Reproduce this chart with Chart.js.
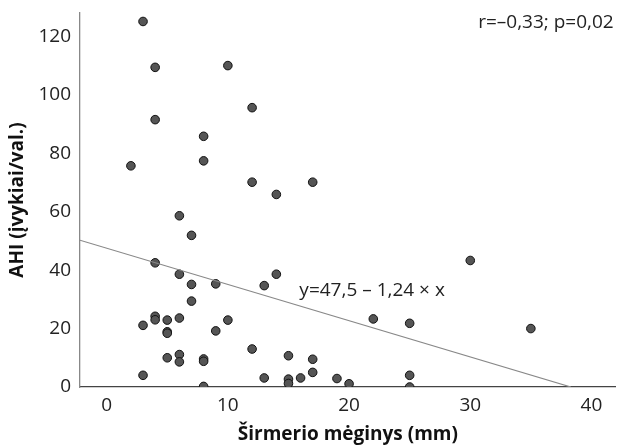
<!DOCTYPE html>
<html>
<head>
<meta charset="utf-8">
<script src="https://cdn.jsdelivr.net/npm/chart.js@4.4.0/dist/chart.umd.min.js"></script>
<style>
  html, body { margin: 0; padding: 0; background: #fff; }
  #wrap { width: 621px; height: 446px; }
</style>
</head>
<body>
<div id="wrap"><canvas id="chart" width="621" height="446"></canvas></div>
<script>
// Širmerio mėginys (mm) vs AHI
const xValues = [3, 4, 10, 12, 4, 8, 8, 2, 12, 17, 14, 6, 7, 4, 6, 7, 9, 7, 13, 14,
  3, 4, 4, 5, 5, 5, 6, 9, 10, 12, 5, 6, 6, 8, 8, 3, 8, 13, 15, 15, 15, 16, 17, 17,
  30, 22, 25, 35, 19, 20, 25, 25];
const yValues = [125.1, 109.4, 110, 95.6, 91.5, 85.8, 77.4, 75.7, 70.1, 70.1, 65.9, 58.6,
  51.9, 42.5, 38.6, 35.1, 35.3, 29.4, 34.7, 38.6,
  21.1, 24.2, 23.0, 22.9, 18.9, 18.4, 23.6, 19.2, 22.9, 13.0, 10.0, 11.1, 8.6, 9.6, 8.8,
  4.0, 0.2, 3.1, 10.7, 2.7, 1.2, 3.1, 9.5, 5.0,
  43.3, 23.3, 21.8, 20.0, 2.9, 1.1, 4.0, 0];
const xTicks = [0, 10, 20, 30, 40];
const yTicks = [0, 20, 40, 60, 80, 100, 120];
const intercept = 47.5;
const slope = -1.24;
const xMin = -2.2, xMax = 42;
const yMin = 0, yMax = 128;

const points = xValues.map((x, i) => ({ x: x, y: yValues[i] }));
const fitLine = [
  { x: xMin, y: intercept + slope * xMin },
  { x: -intercept / slope, y: 0 }
];

const textPlugin = {
  id: 'texts',
  afterDatasetsDraw(chart) {
    const ctx = chart.ctx;
    const xs = chart.scales.x, ys = chart.scales.y;
    ctx.save();
    ctx.fillStyle = '#222';
    ctx.font = '19px "Open Sans"';
    ctx.textBaseline = 'middle';
    ctx.textAlign = 'right';
    ctx.fillText('r=–0,33; p=0,02', chart.chartArea.right - 2, ys.getPixelForValue(124.8));
    ctx.textAlign = 'left';
    ctx.fillText('y=47,5 – 1,24 × x', xs.getPixelForValue(15.9), ys.getPixelForValue(33));
    ctx.restore();
  }
};

new Chart(document.getElementById('chart'), {
  type: 'scatter',
  data: {
    datasets: [
      {
        label: 'fit',
        type: 'line',
        data: fitLine,
        borderColor: '#888',
        borderWidth: 1.2,
        pointRadius: 0,
        fill: false
      },
      {
        label: 'AHI',
        data: points,
        backgroundColor: '#555',
        borderColor: '#111',
        borderWidth: 1,
        pointRadius: 4.3
      }
    ]
  },
  options: {
    responsive: false,
    animation: false,
    layout: { padding: { top: 13, right: 2, left: 6, bottom: 0 } },
    plugins: { legend: { display: false }, tooltip: { enabled: false } },
    scales: {
      x: {
        type: 'linear',
        min: xMin,
        max: xMax,
        afterBuildTicks: s => { s.ticks = xTicks.map(v => ({ value: v })); },
        afterFit: s => { s.height = 59; s.paddingLeft = 0; s.paddingRight = 0; },
        grid: { display: false, drawTicks: false },
        border: { color: '#444', width: 1.3 },
        ticks: { color: '#222', font: { family: 'Open Sans', size: 19 }, padding: 7 },
        title: {
          display: true,
          text: 'Širmerio mėginys (mm)',
          color: '#111',
          font: { family: 'Open Sans', size: 19, weight: 'bold' },
          padding: { top: 0, bottom: 0 }
        }
      },
      y: {
        min: yMin,
        max: yMax,
        afterBuildTicks: s => { s.ticks = yTicks.map(v => ({ value: v })); },
        afterFit: s => { s.width = 74; s.paddingTop = 0; s.paddingBottom = 0; },
        grid: { display: false, drawTicks: false },
        border: { color: '#888', width: 1.3 },
        ticks: { color: '#222', font: { family: 'Open Sans', size: 19 }, padding: 9 },
        title: {
          display: true,
          text: 'AHI (įvykiai/val.)',
          color: '#111',
          font: { family: 'Open Sans', size: 19, weight: 'bold' },
          padding: { top: 0, bottom: 0 }
        }
      }
    }
  },
  plugins: [textPlugin]
});
</script>
</body>
</html>
